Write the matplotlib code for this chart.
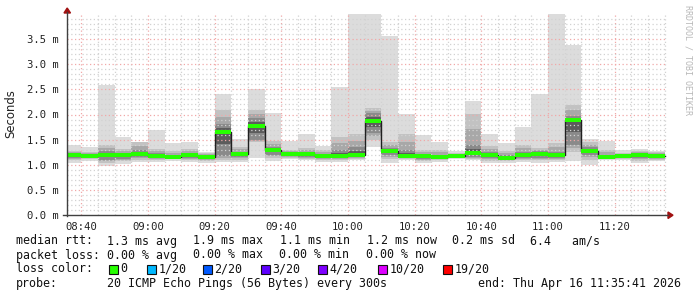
import matplotlib
matplotlib.use('Agg')
import matplotlib.pyplot as plt
from matplotlib.patches import Rectangle, Polygon
import numpy as np

# 5 minute smokeping rows (start time of each step), values in ms
times = ['08:35', '08:40', '08:45', '08:50', '08:55', '09:00', '09:05', '09:10', '09:15',
         '09:20', '09:25', '09:30', '09:35', '09:40', '09:45', '09:50', '09:55', '10:00',
         '10:05', '10:10', '10:15', '10:20', '10:25', '10:30', '10:35', '10:40', '10:45',
         '10:50', '10:55', '11:00', '11:05', '11:10', '11:15', '11:20', '11:25', '11:30']
rtt_min = [1.03, 1.08, 0.98, 1.01, 1.06, 1.06, 1.08, 1.06, 1.03, 1.06, 1.06, 1.14,
           1.08, 1.11, 1.09, 1.06, 1.06, 1.09, 1.36, 1.04, 1.09, 1.03, 1.06, 1.11,
           1.09, 1.03, 1.04, 1.06, 1.04, 1.06, 1.08, 0.99, 1.09, 1.09, 1.03, 1.07]
rtt_p10 = [1.10, 1.11, 1.03, 1.07, 1.10, 1.10, 1.11, 1.10, 1.08, 1.10, 1.10, 1.45,
           1.13, 1.14, 1.12, 1.10, 1.10, 1.12, 1.50, 1.12, 1.11, 1.08, 1.09, 1.13,
           1.12, 1.08, 1.08, 1.10, 1.09, 1.10, 1.25, 1.10, 1.11, 1.11, 1.08, 1.10]
rtt_p25 = [1.14, 1.14, 1.10, 1.12, 1.15, 1.14, 1.13, 1.14, 1.12, 1.18, 1.15, 1.49,
           1.20, 1.17, 1.16, 1.13, 1.14, 1.16, 1.63, 1.20, 1.14, 1.12, 1.13, 1.15,
           1.16, 1.13, 1.11, 1.14, 1.14, 1.14, 1.40, 1.20, 1.13, 1.14, 1.13, 1.14]
rtt_med = [1.19, 1.17, 1.19, 1.19, 1.21, 1.18, 1.15, 1.19, 1.16, 1.65, 1.21, 1.78,
           1.29, 1.21, 1.21, 1.17, 1.17, 1.20, 1.88, 1.27, 1.17, 1.17, 1.16, 1.17,
           1.23, 1.19, 1.14, 1.19, 1.21, 1.19, 1.89, 1.28, 1.15, 1.17, 1.19, 1.17]
rtt_p75 = [1.23, 1.20, 1.28, 1.24, 1.30, 1.23, 1.20, 1.23, 1.20, 1.82, 1.26, 1.93,
           1.35, 1.24, 1.26, 1.22, 1.30, 1.35, 2.03, 1.33, 1.30, 1.22, 1.20, 1.20,
           1.40, 1.25, 1.20, 1.26, 1.27, 1.26, 1.97, 1.35, 1.20, 1.20, 1.24, 1.21]
rtt_p90 = [1.27, 1.25, 1.40, 1.32, 1.45, 1.32, 1.28, 1.32, 1.23, 2.08, 1.35, 2.09,
           1.48, 1.30, 1.33, 1.30, 1.56, 1.61, 2.12, 1.45, 1.62, 1.30, 1.30, 1.24,
           2.01, 1.38, 1.28, 1.40, 1.33, 1.43, 2.19, 1.45, 1.30, 1.24, 1.28, 1.25]
rtt_max = [1.39, 1.35, 2.59, 1.56, 1.46, 1.70, 1.44, 1.45, 1.26, 2.41, 1.51, 2.50,
           2.02, 1.48, 1.61, 1.37, 2.55, 4.10, 4.10, 3.57, 2.01, 1.60, 1.45, 1.28,
           2.27, 1.61, 1.43, 1.75, 2.41, 4.10, 3.39, 1.52, 1.47, 1.29, 1.31, 1.28]

tick_labels = ['08:40', '09:00', '09:20', '09:40', '10:00', '10:20', '10:40', '11:00', '11:20']
y_labels = ['0.0 m', '0.5 m', '1.0 m', '1.5 m', '2.0 m', '2.5 m', '3.0 m', '3.5 m']
loss_labels = ['0', '1/20', '2/20', '3/20', '4/20', '10/20', '19/20']
loss_colors = ['#26ff00', '#00b8ff', '#0059ff', '#5e00ff', '#7e00ff', '#dd00ff', '#ff0000']


def to_min(s):
    h, m = s.split(':')
    return int(h) * 60 + int(m)


W, H = 697, 297
MONO = 'DejaVu Sans Mono'

x = np.array([to_min(t) for t in times], dtype=float)
lo = np.array(rtt_min)
p10 = np.array(rtt_p10)
p25 = np.array(rtt_p25)
med = np.array(rtt_med)
p75 = np.array(rtt_p75)
p90 = np.array(rtt_p90)
hi = np.array(rtt_max)

t_start = to_min('08:35') + 41 / 60
t_end = to_min('11:35') + 41 / 60

fig = plt.figure(figsize=(W / 100, H / 100), dpi=100)
fig.patch.set_facecolor('white')
ax = fig.add_axes([67 / W, 1 - 215 / H, 600 / W, 201 / H])
ax.set_xlim(t_start, t_end)
ax.set_ylim(0, 4.0)
for s in ax.spines.values():
    s.set_visible(False)

# smoke: shaded bands from outer to inner
def band(a, b, color, z):
    ax.bar(x, b - a, bottom=a, width=5, align='edge', color=color, linewidth=0, zorder=z)

band(lo, hi, '#dcdcdc', 1)
band(p10, p90, '#c2c2c2', 1.1)
band((p10 + p25) / 2, (p75 + p90) / 2, '#a8a8a8', 1.2)
band(p25, p75, '#8a8a8a', 1.3)
band((p25 + med) / 2, (med + p75) / 2, '#5c5c5c', 1.4)

# grid (drawn above the smoke like rrdtool)
for m in range(to_min('08:40'), to_min('11:35') + 1, 5):
    major = (m - to_min('08:40')) % 20 == 0
    ax.axvline(m, color='#f0a8a8' if major else '#d2d2d2', lw=0.9,
               ls=(0, (1, 2)), zorder=2)
for k in range(1, 40):
    v = k / 10
    major = k % 5 == 0
    ax.axhline(v, color='#f0a8a8' if major else '#d2d2d2', lw=0.9,
               ls=(0, (1, 2)), zorder=2)

# median: dark step line + green band
xs = np.append(x, x[-1] + 5)
ax.step(xs, np.append(med, med[-1]), where='post', color='#202020', lw=1.0, zorder=3)
ax.bar(x, 0.08, bottom=med - 0.04, width=5, align='edge', color=loss_colors[0],
       linewidth=0, zorder=4)

# ticks
ax.set_xticks([to_min(t) for t in tick_labels])
ax.set_xticklabels(tick_labels, fontfamily=MONO, fontsize=7.6)
ax.set_yticks(np.arange(0, 4.0, 0.5))
ax.set_yticklabels(y_labels, fontfamily=MONO, fontsize=7.6)
ax.tick_params(axis='both', length=0, colors='#222222')
ax.tick_params(axis='x', pad=5)
ax.tick_params(axis='y', pad=6)


def fx(px):
    return px / W


def fy(py):
    return 1 - py / H


# axes with arrows
fig.add_artist(plt.Line2D([fx(67), fx(67)], [fy(216), fy(12)], color='#404040', lw=1))
fig.add_artist(plt.Line2D([fx(63), fx(668)], [fy(215), fy(215)], color='#404040', lw=1))
fig.add_artist(Polygon([(fx(64), fy(13)), (fx(70.5), fy(13)), (fx(67.2), fy(8))],
                       closed=True, color='#a01010', transform=fig.transFigure))
fig.add_artist(Polygon([(fx(668), fy(212)), (fx(668), fy(218.5)), (fx(673), fy(215.2))],
                       closed=True, color='#a01010', transform=fig.transFigure))

fig.text(fx(11), fy(114), 'Seconds', rotation=90, ha='center', va='center',
         fontsize=8.4, color='#222222')
fig.text(fx(688), fy(5), 'RRDTOOL / TOBI OETIKER', rotation=270, ha='center', va='top',
         fontfamily=MONO, fontsize=6, color='#b8b8b8')

# legend
tk = dict(fontfamily=MONO, fontsize=8.4, color='#111111', va='center', ha='left')
rows = [
    (241, [(16, 'median rtt:'), (107, '1.3 ms avg'), (193, '1.9 ms max'), (280, '1.1 ms min'),
           (367, '1.2 ms now'), (452, '0.2 ms sd'), (530, '6.4   am/s')]),
    (255, [(16, 'packet loss:'), (107, '0.00 % avg'), (193, '0.00 % max'), (279, '0.00 % min'),
           (366, '0.00 % now')]),
    (283, [(16, 'probe:'), (107, '20 ICMP Echo Pings (56 Bytes) every 300s'),
           (478, 'end: Thu Apr 16 11:35:41 2026')]),
]
for yy, items in rows:
    for xx, txt in items:
        fig.text(fx(xx), fy(yy), txt, **tk)

fig.text(fx(16), fy(269), 'loss color:', **tk)
sq_x = [109, 146.7, 203, 260.7, 318, 378, 443]
for sx, lab, col in zip(sq_x, loss_labels, loss_colors):
    fig.add_artist(Rectangle((fx(sx), fy(273.5)), 9 / W, 9 / H, facecolor=col,
                             edgecolor='#111111', lw=0.8, transform=fig.transFigure))
    fig.text(fx(sx + 11.5), fy(269), lab, **tk)

fig.savefig('out.png', dpi=100, facecolor='white')
